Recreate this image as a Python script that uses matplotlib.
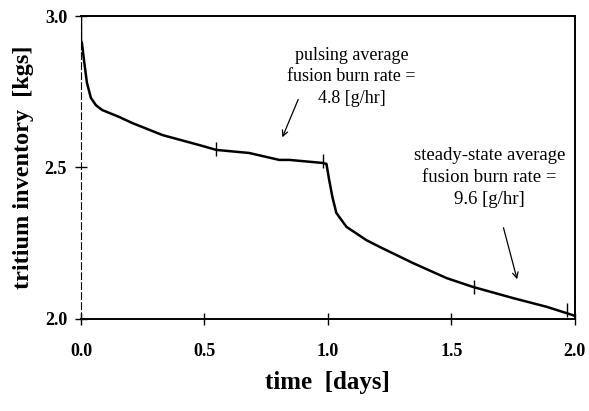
import matplotlib
matplotlib.use("Agg")
import matplotlib.pyplot as plt

# inventory curve
time_days = [0.0, 0.0, 0.004, 0.012, 0.024, 0.04, 0.06, 0.085, 0.154, 0.207,
             0.33, 0.479, 0.548, 0.68, 0.803, 0.844, 0.978, 0.994, 1.005, 1.018,
             1.034, 1.075, 1.156, 1.209, 1.343, 1.48, 1.586, 1.749, 1.886, 1.99, 2.0]
inventory = [3.0, 2.92, 2.91, 2.855, 2.78, 2.73, 2.706, 2.69, 2.667, 2.647,
             2.607, 2.574, 2.558, 2.548, 2.525, 2.525, 2.515, 2.512, 2.459, 2.403,
             2.35, 2.304, 2.26, 2.238, 2.185, 2.135, 2.106, 2.069, 2.04, 2.013, 2.01]

# small vertical marks along the curve
mark_x = [0.548, 0.98, 1.59, 1.97]
mark_y = [2.56, 2.52, 2.105, 2.03]

x_ticks = [0.0, 0.5, 1.0, 1.5, 2.0]
y_ticks = [2.0, 2.5, 3.0]

plt.rcParams["font.family"] = ["Liberation Serif", "DejaVu Serif"]

fig = plt.figure(figsize=(5.89, 4.11), dpi=100)
ax = fig.add_axes([0.1375, 0.224, 0.8385, 0.737])

ax.plot(time_days, inventory, color="black", lw=1.8)
ax.plot(mark_x, mark_y, linestyle="none", marker="|", color="black",
        markersize=10, markeredgewidth=1.0)

ax.set_xlim(0, 2.0)
ax.set_ylim(2.0, 3.0)
ax.set_xticks(x_ticks)
ax.set_xticklabels([f"{v:.1f}" for v in x_ticks], fontweight="bold")
ax.set_yticks(y_ticks)
ax.set_yticklabels([f"{v:.1f}" for v in y_ticks], fontweight="bold")
ax.tick_params(direction="inout", length=8, width=1.0, labelsize=13)
ax.tick_params(axis="x", pad=13)
ax.tick_params(axis="y", pad=6)

for side in ["top", "right", "bottom"]:
    ax.spines[side].set_linewidth(1.4)
ax.spines["left"].set_linewidth(0.8)
ax.spines["left"].set_linestyle((0, (6, 3)))

ax.set_xlabel("time  [days]", fontsize=18, fontweight="bold", labelpad=8)
ax.set_ylabel("tritium inventory  [kgs]", fontsize=17.5, fontweight="bold", labelpad=8)

ax.text(1.095, 2.80, "pulsing average\nfusion burn rate =\n4.8 [g/hr]",
        ha="center", va="center", fontsize=13, linespacing=1.35)
ax.annotate("", xy=(0.811, 2.591), xytext=(0.884, 2.733),
            arrowprops=dict(arrowstyle="->", color="black", lw=0.9))

ax.text(1.655, 2.467, "steady-state average\nfusion burn rate =\n9.6 [g/hr]",
        ha="center", va="center", fontsize=13.5, linespacing=1.35)
ax.annotate("", xy=(1.769, 2.122), xytext=(1.708, 2.31),
            arrowprops=dict(arrowstyle="->", color="black", lw=0.9))

fig.savefig("out.png", dpi=100)
